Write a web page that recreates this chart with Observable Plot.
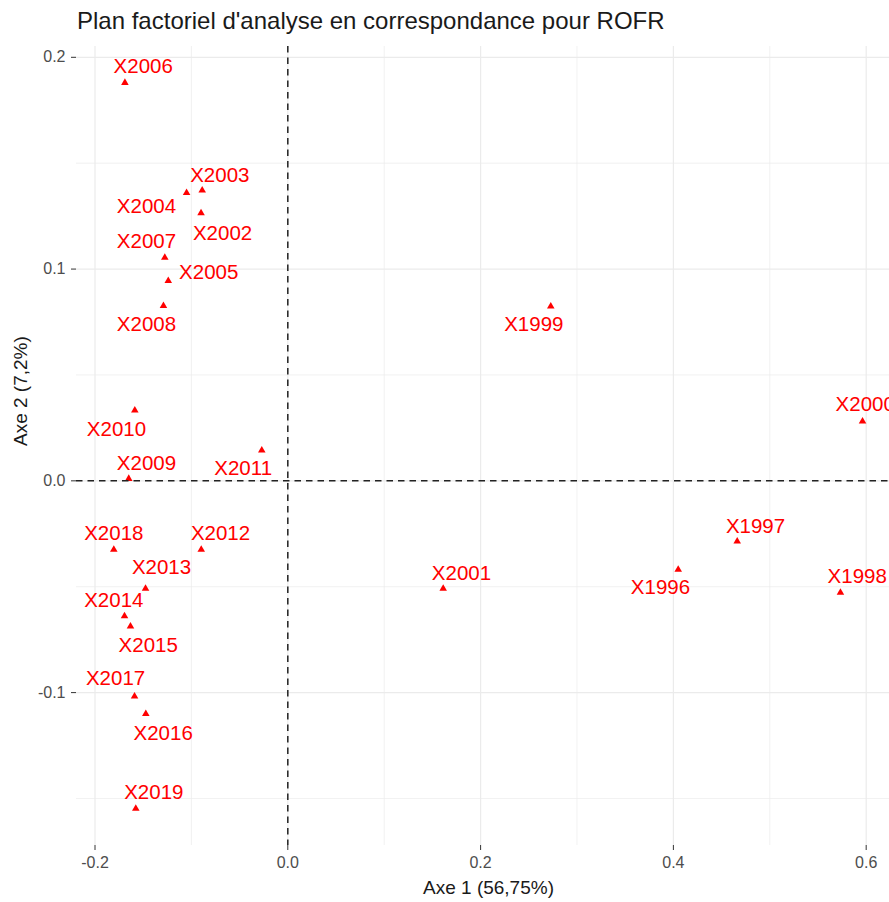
<!DOCTYPE html>
<html>
<head>
<meta charset="utf-8">
<script src="https://cdn.jsdelivr.net/npm/d3@7"></script>
<script src="https://cdn.jsdelivr.net/npm/@observablehq/plot@0.6"></script>
<style>
  html, body { margin: 0; padding: 0; background: #fff; }
  body { width: 889px; height: 902px; overflow: hidden; font-family: "Liberation Sans", Arial, Helvetica, sans-serif; }
  .title { height: 38px; box-sizing: border-box; padding-top: 9px; padding-left: 77px; font-size: 24px; line-height: 24px; color: #1a1a1a; white-space: nowrap; }
  #chart { width: 900px; height: 864px; overflow: hidden; }
  #chart svg { max-width: none !important; }
</style>
</head>
<body>
<div class="title">Plan factoriel d'analyse en correspondance pour ROFR</div>
<div id="chart"></div>
<script>
// Row labels (years)
const years = ["X1996","X1997","X1998","X1999","X2000","X2001","X2002","X2003","X2004","X2005","X2006","X2007","X2008","X2009","X2010","X2011","X2012","X2013","X2014","X2015","X2016","X2017","X2018","X2019"];
// Coordinates on axis 1 and axis 2
const axis1 = [0.405, 0.4662, 0.5733, 0.2728, 0.5962, 0.1612, -0.090, -0.0888, -0.105, -0.124, -0.169, -0.1276, -0.129, -0.165, -0.1587, -0.027, -0.0898, -0.1476, -0.1694, -0.1632, -0.1473, -0.159, -0.1805, -0.1577];
const axis2 = [-0.0419, -0.0286, -0.0528, 0.0824, 0.0281, -0.0509, 0.1264, 0.1372, 0.136, 0.0944, 0.188, 0.1054, 0.0826, 0.001, 0.0333, 0.0144, -0.0325, -0.0509, -0.0639, -0.0687, -0.110, -0.1018, -0.0325, -0.1548];
// Repelled label positions (data units)
const labelX = [0.3866, 0.4852, 0.5907, 0.2552, 0.599, 0.1802, -0.0677, -0.0705, -0.1466, -0.082, -0.150, -0.1466, -0.1466, -0.1466, -0.1777, -0.0463, -0.0698, -0.131, -0.1805, -0.1448, -0.1293, -0.1787, -0.1805, -0.139];
const labelY = [-0.0504, -0.0213, -0.0451, 0.0738, 0.036, -0.0435, 0.1168, 0.1443, 0.1298, 0.0986, 0.1958, 0.1131, 0.0738, 0.0084, 0.0243, 0.0058, -0.0249, -0.0407, -0.0564, -0.0777, -0.1194, -0.0934, -0.0249, -0.1473];
// Ticks
const xMajor = [-0.2, 0, 0.2, 0.4, 0.6];
const xMinor = [-0.1, 0.1, 0.3, 0.5];
const yMajor = [-0.1, 0, 0.1, 0.2];
const yMinor = [-0.15, -0.05, 0.05, 0.15];
const xTitle = "Axe 1 (56,75%)";
const yTitle = "Axe 2 (7,2%)";

const points = years.map((k, i) => ({name: k, x: axis1[i], y: axis2[i], lx: labelX[i], ly: labelY[i]}));
const fmt = d => d.toFixed(1);
const font = "Liberation Sans, Arial, Helvetica, sans-serif";

const chart = Plot.plot({
  width: 900,
  height: 864,
  marginTop: 8,
  marginBottom: 57,
  marginLeft: 76,
  marginRight: 0,
  style: {fontFamily: font, background: "#fff", overflow: "visible", maxWidth: "none"},
  x: {domain: [-0.2192, 0.6356], label: null},
  y: {domain: [-0.1722, 0.2051], label: null},
  marks: [
    Plot.ruleX(xMinor, {stroke: "#ebebeb", strokeWidth: 0.7}),
    Plot.ruleY(yMinor, {stroke: "#ebebeb", strokeWidth: 0.7}),
    Plot.ruleX(xMajor, {stroke: "#ebebeb", strokeWidth: 1.2}),
    Plot.ruleY(yMajor, {stroke: "#ebebeb", strokeWidth: 1.2}),
    Plot.axisX({ticks: xMajor, tickFormat: fmt, tickSize: 5, tickPadding: 6, fontSize: 16, stroke: "#333", fill: "#4d4d4d", label: null}),
    Plot.axisY({ticks: yMajor, tickFormat: fmt, tickSize: 5, tickPadding: 6, fontSize: 16, stroke: "#333", fill: "#4d4d4d", label: null}),
    Plot.dot(points, {x: "x", y: "y", symbol: "triangle", r: 2.8, fill: "#ff0000", stroke: "none"}),
    Plot.ruleX([0], {stroke: "#222", strokeWidth: 1.5, strokeDasharray: "6.5,5"}),
    Plot.ruleY([0], {stroke: "#222", strokeWidth: 1.5, strokeDasharray: "6.5,5"}),
    Plot.text(points, {x: "lx", y: "ly", text: "name", fill: "#ff0000", fontSize: 20.5, textAnchor: "middle", lineAnchor: "middle"}),
    Plot.text([xTitle], {frameAnchor: "bottom", dy: 42, text: d => d, fontSize: 19, fill: "#1a1a1a", lineAnchor: "middle"}),
    Plot.text([yTitle], {frameAnchor: "left", dx: -56, rotate: -90, text: d => d, fontSize: 19, fill: "#1a1a1a", lineAnchor: "middle"})
  ]
});
document.getElementById("chart").appendChild(chart);
</script>
</body>
</html>
